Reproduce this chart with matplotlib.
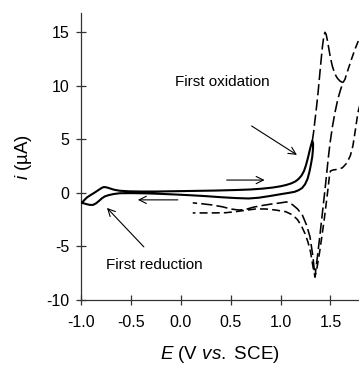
import matplotlib
matplotlib.use('Agg')
import matplotlib.pyplot as plt

plt.rcParams['font.family'] = ['Liberation Sans', 'DejaVu Sans']
plt.rcParams['axes.unicode_minus'] = False
plt.rcParams['mathtext.fontset'] = 'custom'
plt.rcParams['mathtext.rm'] = 'Liberation Sans'
plt.rcParams['mathtext.it'] = 'Liberation Sans:italic'

# ---------------- data (E in V vs. SCE, i in uA) ----------------
# solid CV: forward from -1.0 V switch to 1.32 V, then reverse back
solid_E = [-0.99, -0.97, -0.94, -0.90, -0.86, -0.82, -0.79, -0.77, -0.745, -0.71,
           -0.67, -0.61, -0.52, -0.40, -0.25, -0.05, 0.15, 0.35, 0.55, 0.70,
           0.82, 0.92, 1.00, 1.06, 1.11, 1.15, 1.18, 1.21, 1.235, 1.255,
           1.275, 1.29, 1.305, 1.318,
           1.326, 1.325, 1.318, 1.305, 1.29, 1.27, 1.245, 1.215, 1.18, 1.14,
           1.08, 1.00, 0.90, 0.78, 0.68, 0.55, 0.40, 0.25, 0.10, -0.05,
           -0.20, -0.35, -0.50, -0.61, -0.67, -0.72, -0.76, -0.79, -0.82, -0.85,
           -0.88, -0.91, -0.94, -0.97, -0.99]
solid_i = [-0.92, -0.70, -0.42, -0.18, 0.05, 0.30, 0.48, 0.55, 0.52, 0.42,
           0.30, 0.20, 0.15, 0.13, 0.13, 0.16, 0.19, 0.22, 0.27, 0.32,
           0.40, 0.50, 0.62, 0.75, 0.90, 1.08, 1.30, 1.62, 2.05, 2.60,
           3.30, 3.90, 4.45, 4.85,
           4.60, 4.10, 3.40, 2.70, 2.00, 1.30, 0.80, 0.45, 0.25, 0.10,
           0.00, -0.12, -0.28, -0.45, -0.52, -0.48, -0.40, -0.30, -0.22, -0.15,
           -0.09, -0.04, -0.02, -0.03, -0.10, -0.20, -0.32, -0.50, -0.75, -0.98,
           -1.12, -1.12, -1.06, -0.98, -0.92]

# long-dashed CV (switch at 1.62 V)
dashA_E = [1.318, 1.33, 1.345, 1.36, 1.375, 1.39, 1.405, 1.42, 1.433, 1.445,
           1.457, 1.47, 1.485, 1.50, 1.52, 1.545, 1.57, 1.595, 1.625,
           1.60, 1.575, 1.545, 1.52, 1.495, 1.475, 1.46, 1.445, 1.42, 1.395,
           1.37, 1.355, 1.345,
           1.325, 1.295, 1.26, 1.22, 1.17, 1.12, 1.06, 1.00, 0.90, 0.80,
           0.72, 0.65, 0.58, 0.50, 0.42, 0.31, 0.20, 0.12]
dashA_i = [4.85, 5.6, 6.8, 8.0, 9.3, 10.8, 12.3, 13.7, 14.6, 15.0,
           14.8, 14.2, 13.4, 12.6, 11.8, 11.1, 10.7, 10.45, 10.3,
           9.6, 8.8, 7.5, 6.2, 4.6, 3.0, 1.6, 0.3, -1.8, -3.9,
           -5.9, -7.0, -7.85,
           -6.0, -4.1, -3.0, -2.1, -1.5, -1.1, -0.84, -0.93, -1.05, -1.2,
           -1.35, -1.55, -1.6, -1.5, -1.3, -1.12, -1.0, -0.93]

# short-dashed CV (switch beyond 1.8 V)
dashB_up_E = [1.625, 1.645, 1.665, 1.69, 1.715, 1.745, 1.775, 1.80]
dashB_up_i = [10.3, 10.6, 11.2, 11.9, 12.6, 13.4, 14.1, 14.6]
dashB_E = [1.80, 1.775, 1.75, 1.725, 1.70, 1.665, 1.62, 1.575, 1.53, 1.50,
           1.49, 1.478, 1.46, 1.44, 1.415, 1.39, 1.365, 1.345,
           1.325, 1.30, 1.275, 1.245, 1.21, 1.17, 1.12, 1.05, 0.95, 0.85,
           0.75, 0.65, 0.55, 0.45, 0.30, 0.12]
dashB_i = [8.4, 7.5, 5.9, 4.4, 3.5, 2.8, 2.35, 2.2, 2.15, 2.05,
           1.6, 0.6, -0.8, -2.3, -4.0, -5.6, -7.0, -7.85,
           -6.9, -5.5, -4.6, -3.8, -3.1, -2.5, -2.05, -1.75, -1.6, -1.5,
           -1.5, -1.62, -1.75, -1.85, -1.87, -1.87]

# scan-direction arrows (tail E, head E, i)
arrow_right = (0.46, 0.84, 1.2)
arrow_left = (-0.03, -0.43, -0.65)

# annotations: text, text position, arrow tail, arrow head
ox_label, ox_text, ox_tail, ox_head = 'First oxidation', (-0.06, 10.35), (0.71, 6.25), (1.164, 3.55)
red_label, red_text, red_tail, red_head = 'First reduction', (-0.75, -6.72), (-0.37, -5.04), (-0.74, -1.40)

xticks = [-1.0, -0.5, 0.0, 0.5, 1.0, 1.5]
xticklabels = ['-1.0', '-0.5', '0.0', '0.5', '1.0', '1.5']
yticks = [-10, -5, 0, 5, 10, 15]
yticklabels = ['-10', '-5', '0', '5', '10', '15']

# ---------------- figure ----------------
fig = plt.figure(figsize=(3.59, 3.65), dpi=100)
ax = fig.add_axes([81/359, 1-300/365, 1-81/359, (300-13)/365])

ax.plot(dashA_E, dashA_i, color='black', lw=1.15, linestyle=(0, (7, 2.6)), zorder=2)
ax.plot(dashB_up_E, dashB_up_i, color='black', lw=1.15, linestyle=(0, (5, 2.6)), zorder=2)
ax.plot(dashB_E, dashB_i, color='black', lw=1.15, linestyle=(0, (5, 2.6)), zorder=2)
ax.plot(solid_E, solid_i, color='black', lw=1.5, zorder=3)

def arrow(tail, head):
    ax.annotate('', xy=head, xytext=tail,
                arrowprops=dict(arrowstyle='->', color='black', lw=0.8,
                                shrinkA=0, shrinkB=0, mutation_scale=13))

arrow((arrow_right[0], arrow_right[2]), (arrow_right[1], arrow_right[2]))
arrow((arrow_left[0], arrow_left[2]), (arrow_left[1], arrow_left[2]))
arrow(ox_tail, ox_head)
arrow(red_tail, red_head)
ax.text(ox_text[0], ox_text[1], ox_label, fontsize=11, ha='left', va='center')
ax.text(red_text[0], red_text[1], red_label, fontsize=11, ha='left', va='center')

ax.set_xlim(-1.0, 1.786)
ax.set_ylim(-10, 16.8)
ax.set_xticks(xticks)
ax.set_xticklabels(xticklabels)
ax.set_yticks(yticks)
ax.set_yticklabels(yticklabels)
ax.spines['top'].set_visible(False)
ax.spines['right'].set_visible(False)
for s in ('left', 'bottom'):
    ax.spines[s].set_linewidth(0.9)
    ax.spines[s].set_color('#333333')
ax.tick_params(axis='both', direction='inout', length=7, width=0.9,
               color='#333333', labelsize=11.5)
ax.tick_params(axis='y', pad=5.0)
ax.tick_params(axis='x', pad=7.0)

ax.set_xlabel(r'$E$ (V $vs.$ SCE)', fontsize=13.5)
ax.set_ylabel(r'$i$ (µA)', fontsize=13.5)
ax.xaxis.set_label_coords(0.5, -0.155)
ax.yaxis.set_label_coords(-0.17, 0.5)

fig.savefig('out.png', dpi=100)
